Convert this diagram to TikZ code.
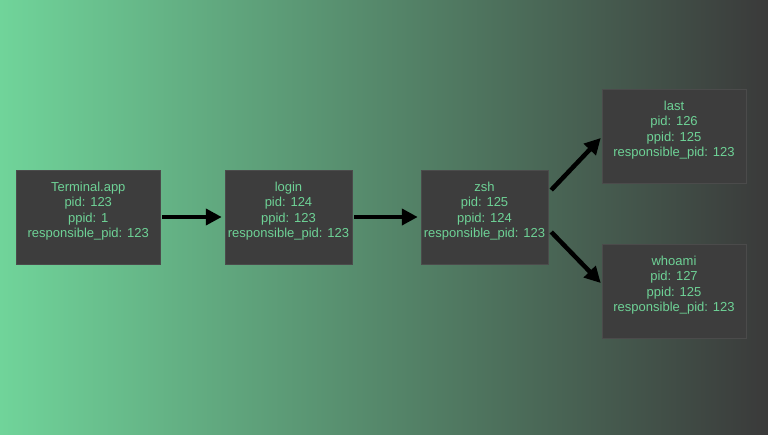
\documentclass[tikz,border=0pt]{standalone}
\usepackage{fontspec}
\setmainfont{Liberation Sans}
\usetikzlibrary{arrows.meta,calc}

\definecolor{bggreen}{RGB}{112,212,154}
\definecolor{bggray}{RGB}{58,58,58}
\definecolor{boxgray}{RGB}{61,61,61}
\definecolor{txtgreen}{RGB}{110,210,150}

\tikzset{
  proc/.style={fill=boxgray, draw=boxgray!93!white, line width=.5pt, text=txtgreen,
    align=center, inner sep=0pt, minimum height=94pt,
    font=\fontsize{13}{15.6}\selectfont},
  flow/.style={-{Triangle[length=16pt,width=16pt]}, line width=4.5pt, black}
}
\newcommand{\proctext}[3]{#1\\pid: #2\\ppid: #3\\responsible\_pid: 123\\[-6pt]\strut}

\begin{document}
\begin{tikzpicture}[x=1pt,y=-1pt]
	\useasboundingbox (0,0) rectangle (768,434);
	\shade[left color=bggreen, right color=bggray] (0,0) rectangle (768,434);
	% processes
	\node[proc, minimum width=143.5pt] (term) at (88.25,217) {\proctext{Terminal.app}{123}{1}};
	\node[proc, minimum width=127pt] (login) at (288.5,217) {\proctext{login}{124}{123}};
	\node[proc, minimum width=127pt] (zsh) at (484.5,217) {\proctext{zsh}{125}{124}};
	\node[proc, minimum width=144pt] (last) at (674,136) {\proctext{last}{126}{125}};
	\node[proc, minimum width=144pt] (whoami) at (674,291) {\proctext{whoami}{127}{125}};
	% parent -> child
	\draw[flow, shorten <=2pt, shorten >=3pt] (term) -- (login);
	\draw[flow, shorten <=2pt, shorten >=3pt] (login) -- (zsh);
	\draw[flow] ($(zsh.east)+(3,-27)$) -- ($(last.west)+(-1,2)$);
	\draw[flow] ($(zsh.east)+(3,15)$) -- ($(whoami.west)+(-1,-8)$);
\end{tikzpicture}
\end{document}
